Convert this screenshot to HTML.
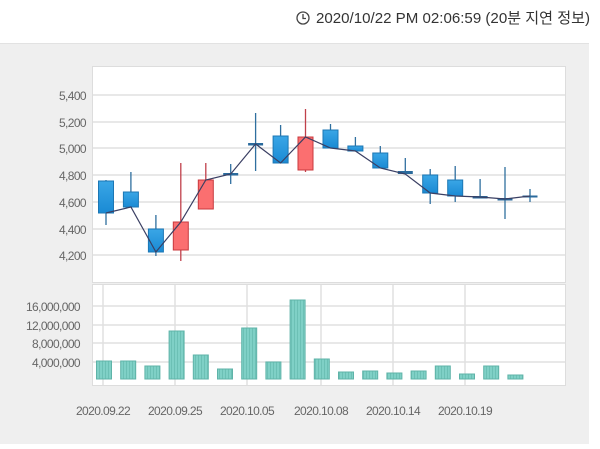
<!DOCTYPE html>
<html><head><meta charset="utf-8"><style>
body{margin:0;width:600px;height:444px;overflow:hidden;background:#fff}
</style></head><body>
<svg width="600" height="444" xmlns="http://www.w3.org/2000/svg" font-family="Liberation Sans, Noto Sans CJK KR, sans-serif">
<defs>
<linearGradient id="bl" x1="0" x2="0" y1="0" y2="1"><stop offset="0" stop-color="#3aa6e6"/><stop offset="1" stop-color="#1a8ad4"/></linearGradient>
<pattern id="vp" width="3" height="4" patternUnits="userSpaceOnUse"><rect width="3" height="4" fill="#7fd0c6"/><rect width="1" height="4" fill="#6cc0b5"/></pattern>
</defs>
<rect x="0" y="43" width="589" height="401" fill="#efefef"/>
<line x1="0" y1="43.5" x2="589" y2="43.5" stroke="#e2e2e2"/>
<circle cx="303" cy="18" r="6" fill="none" stroke="#444" stroke-width="1.3"/>
<path d="M303 14v4.5h3" fill="none" stroke="#444" stroke-width="1.3"/>
<text x="316" y="23" textLength="274" lengthAdjust="spacingAndGlyphs" font-size="15" fill="#333">2020/10/22 PM 02:06:59 (20분 지연 정보)</text>
<rect x="92.5" y="66.5" width="473" height="216" fill="#fff" stroke="#ddd"/>
<rect x="92.5" y="284.5" width="473" height="101" fill="#fff" stroke="#ddd"/>
<g stroke="#e0e0e0" stroke-width="1.5">
<line x1="93" x2="565" y1="95" y2="95"/><line x1="93" x2="565" y1="122" y2="122"/><line x1="93" x2="565" y1="148" y2="148"/><line x1="93" x2="565" y1="175" y2="175"/><line x1="93" x2="565" y1="202" y2="202"/><line x1="93" x2="565" y1="229" y2="229"/><line x1="93" x2="565" y1="255" y2="255"/>
<line x1="93" x2="565" y1="306" y2="306"/><line x1="93" x2="565" y1="325" y2="325"/><line x1="93" x2="565" y1="343" y2="343"/><line x1="93" x2="565" y1="362" y2="362"/>
<line x1="103" x2="103" y1="285" y2="385"/><line x1="175" x2="175" y1="285" y2="385"/><line x1="247" x2="247" y1="285" y2="385"/><line x1="321" x2="321" y1="285" y2="385"/><line x1="393" x2="393" y1="285" y2="385"/><line x1="465" x2="465" y1="285" y2="385"/>
</g>
<g font-size="12" fill="#666" text-anchor="end" letter-spacing="-0.6">
<text x="86" y="100">5,400</text><text x="86" y="127">5,200</text><text x="86" y="153">5,000</text><text x="86" y="180">4,800</text><text x="86" y="207">4,600</text><text x="86" y="234">4,400</text><text x="86" y="260">4,200</text>
<text x="80" y="311">16,000,000</text><text x="80" y="330">12,000,000</text><text x="80" y="348">8,000,000</text><text x="80" y="367">4,000,000</text>
</g>
<g font-size="12" fill="#666" text-anchor="middle" letter-spacing="-0.6">
<text x="103" y="415">2020.09.22</text><text x="175" y="415">2020.09.25</text><text x="247" y="415">2020.10.05</text><text x="321" y="415">2020.10.08</text><text x="393" y="415">2020.10.14</text><text x="465" y="415">2020.10.19</text>
</g>
<!-- wicks -->
<g stroke="#2f6f9f" stroke-width="1.3">
<line x1="106" x2="106" y1="180" y2="225"/>
<line x1="130.9" x2="130.9" y1="172" y2="207"/>
<line x1="155.9" x2="155.9" y1="215" y2="256"/>
<line x1="230.7" x2="230.7" y1="164" y2="184"/>
<line x1="255.6" x2="255.6" y1="113" y2="171"/>
<line x1="280.6" x2="280.6" y1="125" y2="163"/>
<line x1="330.5" x2="330.5" y1="124" y2="148"/>
<line x1="355.4" x2="355.4" y1="137" y2="151"/>
<line x1="380.3" x2="380.3" y1="146" y2="168"/>
<line x1="405.3" x2="405.3" y1="158" y2="174"/>
<line x1="430.2" x2="430.2" y1="169" y2="204"/>
<line x1="455.2" x2="455.2" y1="166" y2="202"/>
<line x1="480.1" x2="480.1" y1="179" y2="198"/>
<line x1="505" x2="505" y1="167" y2="219"/>
<line x1="530" x2="530" y1="189" y2="202"/>
</g>
<g stroke="#c0404a" stroke-width="1.3">
<line x1="180.8" x2="180.8" y1="163" y2="261"/>
<line x1="205.8" x2="205.8" y1="163" y2="209"/>
<line x1="305.5" x2="305.5" y1="109" y2="172"/>
</g>
<!-- bodies -->
<g fill="url(#bl)" stroke="#1c77b4">
<rect x="98.5" y="181" width="15" height="32"/>
<rect x="123.4" y="192" width="15" height="15"/>
<rect x="148.4" y="229" width="15" height="23"/>
<rect x="273.1" y="136" width="15" height="27"/>
<rect x="323" y="130" width="15" height="18"/>
<rect x="347.9" y="146" width="15" height="5"/>
<rect x="372.8" y="153" width="15" height="15"/>
<rect x="422.7" y="175" width="15" height="18"/>
<rect x="447.7" y="180" width="15" height="16"/>
</g>
<g fill="#2a6a9c">
<rect x="397.8" y="171" width="15" height="3"/>
<rect x="223.2" y="173" width="15" height="2.5"/>
<rect x="248.1" y="143" width="15" height="2.5"/>
<rect x="472.6" y="196" width="15" height="2.5"/>
<rect x="497.5" y="198" width="15" height="2.5"/>
<rect x="522.5" y="195.5" width="15" height="2"/>
</g>
<g fill="#fb6f70" stroke="#c83a3e">
<rect x="173.3" y="222" width="15" height="28"/>
<rect x="198.3" y="180" width="15" height="29"/>
<rect x="298" y="137" width="15" height="33"/>
</g>
<polyline points="106,213 130.9,207 155.9,252 180.8,222 205.8,180 230.7,174 255.6,144 280.6,163 305.5,137 330.5,148 355.4,151 380.3,168 405.3,174 430.2,193 455.2,196 480.1,197 505,199 530,196" fill="none" stroke="#3a3f63" stroke-width="1.2"/>
<!-- volume -->
<g fill="url(#vp)" stroke="#5fb3a8">
<rect x="96.5" y="361" width="15" height="18"/>
<rect x="120.7" y="361" width="15" height="18"/>
<rect x="144.9" y="366" width="15" height="13"/>
<rect x="169.1" y="331" width="15" height="48"/>
<rect x="193.3" y="355" width="15" height="24"/>
<rect x="217.5" y="369" width="15" height="10"/>
<rect x="241.7" y="328" width="15" height="51"/>
<rect x="265.9" y="362" width="15" height="17"/>
<rect x="290.1" y="300" width="15" height="79"/>
<rect x="314.3" y="359" width="15" height="20"/>
<rect x="338.5" y="372" width="15" height="7"/>
<rect x="362.7" y="371" width="15" height="8"/>
<rect x="386.9" y="373" width="15" height="6"/>
<rect x="411.1" y="371" width="15" height="8"/>
<rect x="435.3" y="366" width="15" height="13"/>
<rect x="459.5" y="374" width="15" height="5"/>
<rect x="483.7" y="366" width="15" height="13"/>
<rect x="507.9" y="375" width="15" height="4"/>
</g>
</svg>
</body></html>
